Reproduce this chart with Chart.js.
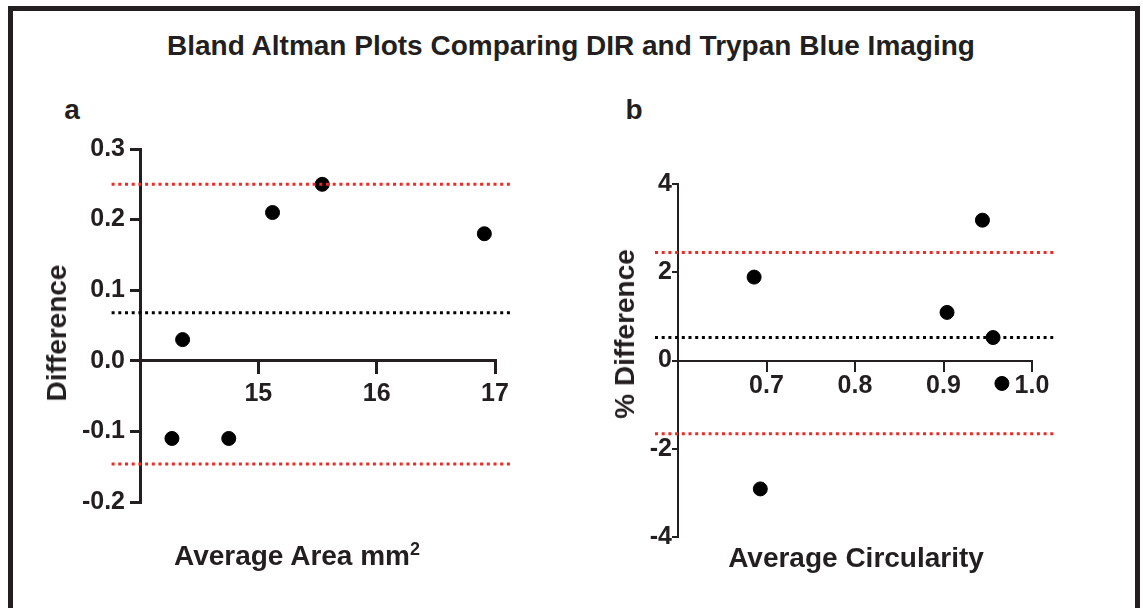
<!DOCTYPE html>
<html lang="en">
<head>
  <meta charset="UTF-8" />
  <title>Bland Altman Plots</title>
  <script src="https://cdn.jsdelivr.net/npm/chart.js"></script>
  <style>
    body { margin: 0; width: 1143px; height: 608px; overflow: hidden; background: #fff;
           font-family: "Liberation Sans", Arial, sans-serif; color: #231f20; }
    .frame { position: absolute; left: 8px; top: 6px; width: 1122px; height: 640px; border: 5px solid #231f20; }
    .txt { position: absolute; font-weight: bold; font-size: 28px; line-height: 28px;
           white-space: nowrap; transform: translate(-50%, -50%); }
    .rot { transform: translate(-50%, -50%) rotate(-90deg); }
    sup { font-size: 18px; line-height: 0; vertical-align: 10px; }
    canvas { position: absolute; }
  </style>
</head>
<body>
  <div class="frame"></div>

  <div class="txt" style="left:571px; top:46px;">Bland Altman Plots Comparing DIR and Trypan Blue Imaging</div>
  <div class="txt" style="left:72px; top:110px;">a</div>
  <div class="txt" style="left:634px; top:110px;">b</div>

  <!-- panel a -->
  <canvas id="chartA" width="560" height="440" style="left:0; top:120px;"></canvas>
  <div class="txt rot" style="left:57px; top:333px;">Difference</div>
  <div class="txt" style="left:297px; top:556px;">Average Area mm<sup>2</sup></div>

  <!-- panel b -->
  <canvas id="chartB" width="573" height="440" style="left:570px; top:120px;"></canvas>
  <div class="txt rot" style="left:625px; top:334px;">% Difference</div>
  <div class="txt" style="left:856px; top:558px;">Average Circularity</div>

  <script>
    // panel a: area
    const areaAvg  = [14.27, 14.36, 14.75, 15.12, 15.54, 16.91];
    const areaDiff = [-0.11, 0.03, -0.11, 0.21, 0.25, 0.18];
    const areaBias = 0.068;
    const areaLimits = [0.25, -0.146];
    const areaSpan = [13.76, 17.13];

    // panel b: circularity
    const circAvg  = [0.686, 0.693, 0.904, 0.944, 0.956, 0.966];
    const circDiff = [1.89, -2.91, 1.09, 3.18, 0.52, -0.52];
    const circBias = 0.52;
    const circLimits = [2.45, -1.66];
    const circSpan = [0.574, 1.024];

    const ink = '#231f20';
    const red = '#ee2a24';
    const tickFont = { family: '"Liberation Sans", Arial, sans-serif', size: 25, weight: 'bold' };

    function points(xs, ys) {
      return xs.map((x, i) => ({ x: x, y: ys[i] }));
    }

    function refLine(span, y, color) {
      return {
        type: 'line',
        data: [{ x: span[0], y: y }, { x: span[1], y: y }],
        borderColor: color,
        borderWidth: 3,
        borderDash: [3, 3.7],
        pointRadius: 0,
        fill: false,
        clip: false,
        order: 0
      };
    }

    function makeChart(id, opt) {
      return new Chart(document.getElementById(id), {
        type: 'scatter',
        data: {
          datasets: [
            { data: points(opt.xs, opt.ys), backgroundColor: '#000', borderColor: '#000',
              pointRadius: opt.dot, pointHoverRadius: opt.dot, order: 1 },
            refLine(opt.span, opt.limits[0], red),
            refLine(opt.span, opt.bias, '#000'),
            refLine(opt.span, opt.limits[1], red)
          ]
        },
        options: {
          responsive: false,
          animation: false,
          events: [],
          layout: { padding: opt.padding },
          plugins: { legend: { display: false }, tooltip: { enabled: false } },
          scales: {
            x: {
              type: 'linear', min: opt.xRange[0], max: opt.xRange[1],
              position: { y: 0 },
              ticks: { stepSize: opt.xStep, font: tickFont, color: ink, padding: opt.xPad,
                       maxRotation: 0, autoSkip: false,
                       callback: v => v === opt.xRange[0] ? '' : opt.xFmt(v) },
              grid: { drawOnChartArea: false, tickLength: opt.xTick, color: ink, lineWidth: opt.axisW },
              border: { color: ink, width: opt.axisW }
            },
            y: {
              type: 'linear', min: opt.yRange[0], max: opt.yRange[1],
              position: 'left',
              afterFit: s => { s.width = opt.yWidth; },
              ticks: { stepSize: opt.yStep, font: tickFont, color: ink, padding: opt.yPad,
                       autoSkip: false, callback: v => opt.yFmt(v) },
              grid: { drawOnChartArea: false, tickLength: opt.yTick, color: ink, lineWidth: opt.axisW },
              border: { color: ink, width: opt.axisW }
            }
          }
        }
      });
    }

    makeChart('chartA', {
      xs: areaAvg, ys: areaDiff, bias: areaBias, limits: areaLimits, span: areaSpan,
      xRange: [14, 17], xStep: 1, xFmt: v => String(v), xTick: 12, xPad: 6,
      yRange: [-0.2, 0.3], yStep: 0.1, yFmt: v => v.toFixed(1), yTick: 10, yPad: 5,
      yWidth: 60, axisW: 3, dot: 7,
      padding: { left: 80, top: 29, right: 65, bottom: 58 }
    });

    makeChart('chartB', {
      xs: circAvg, ys: circDiff, bias: circBias, limits: circLimits, span: circSpan,
      xRange: [0.6, 1.0], xStep: 0.1, xFmt: v => v.toFixed(1), xTick: 10, xPad: 1,
      yRange: [-4, 4], yStep: 2, yFmt: v => String(v), yTick: 6, yPad: 0,
      yWidth: 50, axisW: 2, dot: 7,
      padding: { left: 58, top: 64, right: 111, bottom: 23 }
    });
  </script>
</body>
</html>
